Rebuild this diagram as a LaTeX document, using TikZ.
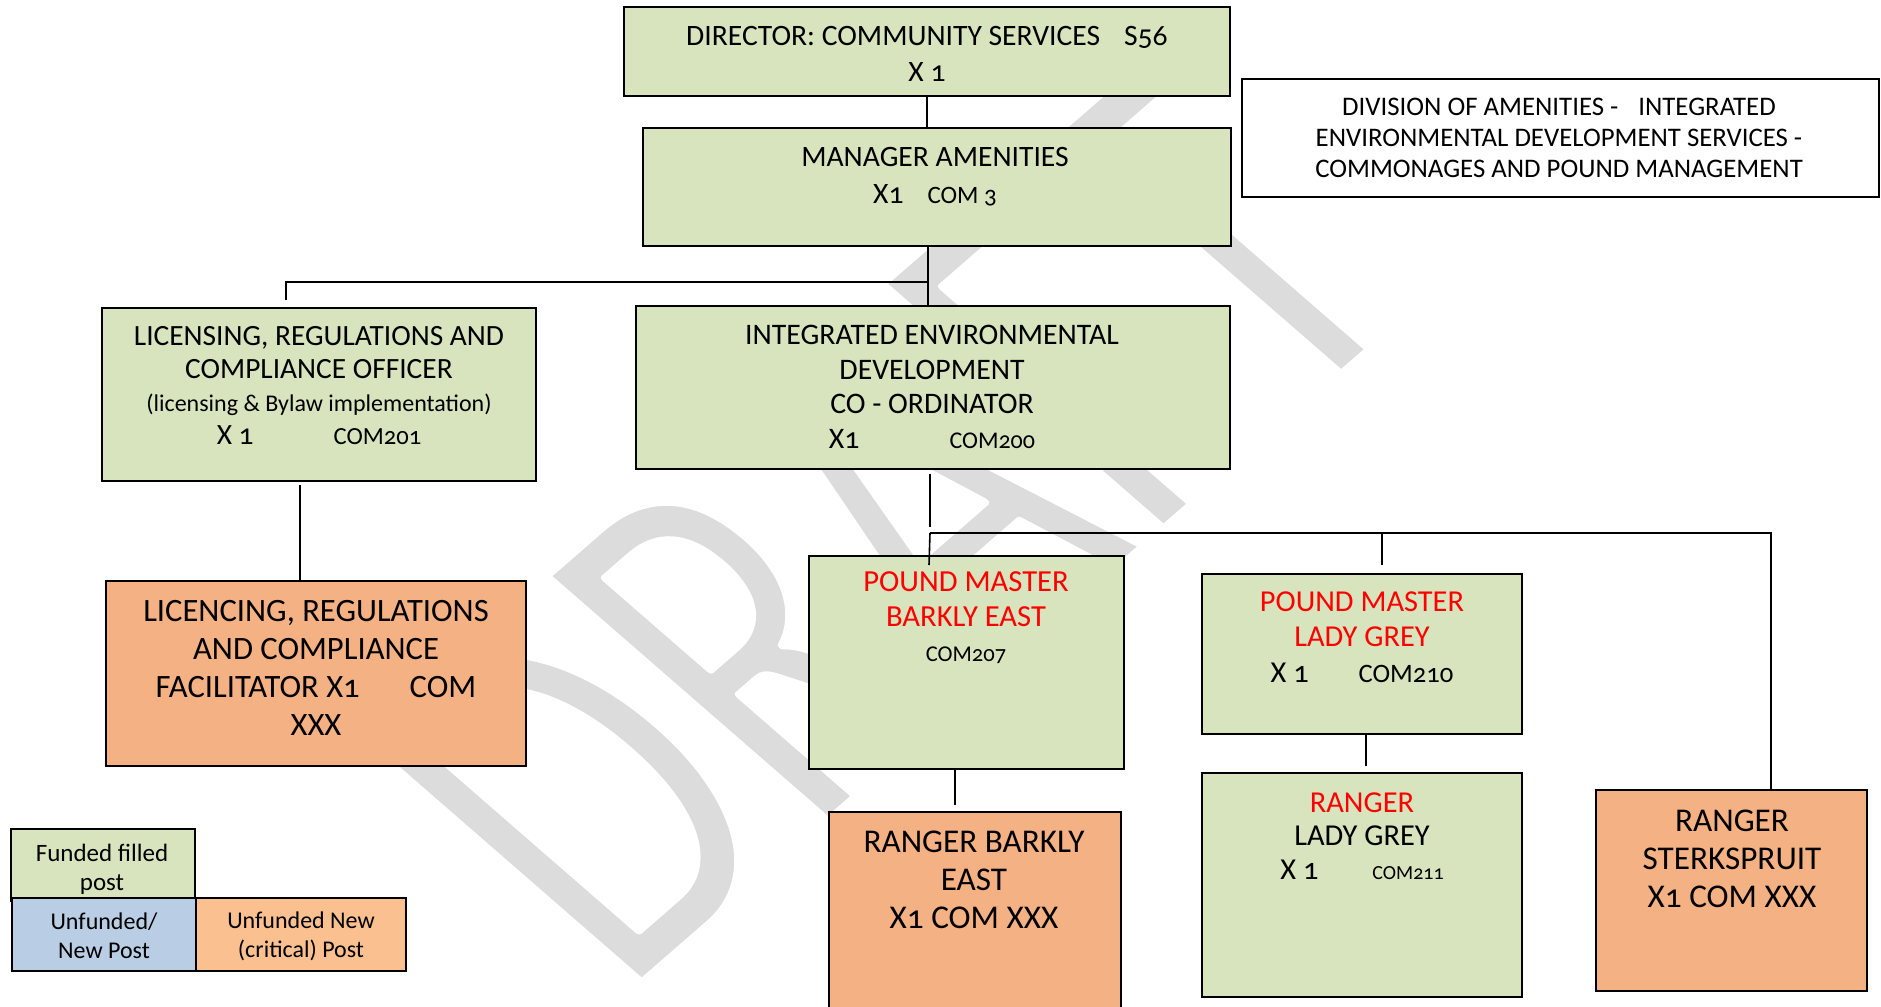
\documentclass[tikz,border=0pt]{standalone}
\usepackage{fontspec}
\setmainfont{Carlito}[Numbers=OldStyle]
\usetikzlibrary{fit}
\definecolor{fgreen}{HTML}{D7E4BD}
\definecolor{forange}{HTML}{F4B183}
\definecolor{lorange}{HTML}{FAC090}
\definecolor{lblue}{HTML}{B9CDE5}
\definecolor{pred}{HTML}{FF0000}
\definecolor{wmark}{HTML}{DCDCDC}
\newcommand{\fs}[2]{\fontsize{#1}{#2}\selectfont}
\newcommand{\thinletters}[1]{\special{pdf:literal direct 2 Tr 1 1 1 RG 3 w 1 j}#1\special{pdf:literal direct 0 Tr}}
\tikzset{
  box/.style={draw=black, line width=0.9pt, inner sep=0pt},
  gbox/.style={box, fill=fgreen},
  obox/.style={box, fill=forange},
  wbox/.style={box, fill=white},
  bbox/.style={box, fill=lblue},
  lobox/.style={box, fill=lorange},
  txt/.style={align=center, inner sep=0pt, text=black},
  conn/.style={draw=black, line width=0.8pt},
}
\begin{document}
\begin{tikzpicture}[x=0.5pt,y=-0.5pt]
\useasboundingbox (0,0) rectangle (1881,1007);
\fill[white] (0,0) rectangle (1881,1007);
% watermark
\begin{scope}[shift={(622,1000)}, yscale=0.87]
\node[transform shape, rotate=45, yscale=1.46, anchor=base west, inner sep=0pt, text=wmark, font=\fs{212.5}{212.5}] (wm) at (0,0) {\thinletters{DRAFT}};
\end{scope}
% boxes
\node[gbox, fit={(624,7) (1230,96)}] (dir) {};
\node[gbox, fit={(643,128) (1231,246)}] (mgr) {};
\node[wbox, fit={(1242,79) (1879,197)}] (div) {};
\node[gbox, fit={(102,308) (536,481)}] (lic) {};
\node[gbox, fit={(636,306) (1230,469)}] (ied) {};
\node[obox, fit={(106,581) (526,766)}] (fac) {};
\node[gbox, fit={(809,556) (1124,769)}] (pmbe) {};
\node[obox, fit={(829,812) (1121,1015)}] (rbe) {};
\node[gbox, fit={(1202,574) (1522,734)}] (pmlg) {};
\node[gbox, fit={(1202,773) (1522,997)}] (rlg) {};
\node[obox, fit={(1596,790) (1867,991)}] (rst) {};
\node[gbox, fit={(11,829) (195,901)}] (leg1) {};
\node[bbox, fit={(12,898) (196,971)}] (leg2) {};
\node[lobox, fit={(196,898) (406,971)}] (leg3) {};
% texts
\node[txt, font=\fs{14.8}{18}] (tdir) at (927,54) {DIRECTOR: COMMUNITY SERVICES\hspace{12pt}S56\\X 1};
\node[txt, font=\fs{14.8}{18.5}] (tmgr) at (935,177) {MANAGER AMENITIES\\X1\hspace{12pt}{\fs{12.5}{18}COM 3}};
\node[txt, font=\fs{13.4}{15.5}] (tdiv) at (1559,138) {DIVISION OF AMENITIES -\hspace{10pt}INTEGRATED\\ENVIRONMENTAL DEVELOPMENT SERVICES -\\COMMONAGES AND POUND MANAGEMENT};
\node[txt, font=\fs{14.7}{16.5}] (tlic) at (319,386) {LICENSING, REGULATIONS AND\\COMPLIANCE OFFICER\\{\fs{12}{16.5}(licensing \& Bylaw implementation)}\\X 1\hspace{40pt}{\fs{12.3}{16.5}COM201}};
\node[txt, font=\fs{14.9}{17.3}] (tied) at (932,387) {INTEGRATED ENVIRONMENTAL\\DEVELOPMENT\\CO - ORDINATOR\\X1\hspace{45pt}{\fs{12}{17}COM200}};
\node[txt, font=\fs{16.3}{18.9}] (tfac) at (316,668) {LICENCING, REGULATIONS\\AND COMPLIANCE\\FACILITATOR X1\hspace{25pt}COM\\XXX};
\node[txt, font=\fs{15.3}{17.5}] (tpmbe) at (966,618) {\textcolor{pred}{POUND MASTER}\\\textcolor{pred}{BARKLY EAST}\\{\fs{11.3}{17}COM207}};
\node[txt, font=\fs{16.6}{18.9}] (trbe) at (974,880) {RANGER BARKLY\\EAST\\X1 COM XXX};
\node[txt, font=\fs{15.2}{17.7}] (tpmlg) at (1362,637) {\textcolor{pred}{POUND MASTER}\\\textcolor{pred}{LADY GREY}\\X 1\hspace{25pt}{\fs{13.3}{17}COM210}};
\node[txt, font=\fs{15.2}{16.8}] (trlg) at (1362,836) {\textcolor{pred}{RANGER}\\LADY GREY\\X 1\hspace{27pt}{\fs{10}{16}COM211}};
\node[txt, font=\fs{16.6}{18.9}] (trst) at (1732,859) {RANGER\\STERKSPRUIT\\X1 COM XXX};
\node[txt, font=\fs{12.5}{14.5}] (tleg1) at (102,869) {Funded filled\\post};
\node[txt, font=\fs{12}{14.5}] (tleg2) at (104,936) {Unfunded/\\New Post};
\node[txt, font=\fs{12}{14.5}] (tleg3) at (301,936) {Unfunded New\\(critical) Post};
% connectors
\coordinate (m1) at (928,282);
\coordinate (l1) at (286,282);
\coordinate (l2) at (286,300);
\coordinate (c300) at (300,485);
\coordinate (i1) at (930,474);
\coordinate (b0) at (930,527);
\coordinate (b1) at (930,533);
\coordinate (b2) at (1771,533);
\coordinate (b3) at (1382,533);
\coordinate (pe) at (929,565);
\coordinate (lgtop) at (1382,565);
\coordinate (r1) at (955,805);
\coordinate (g1) at (1366,766);
\draw[conn] (dir.south) -- (dir.south |- mgr.north);
\draw[conn] (mgr.south -| m1) -- (ied.north -| m1);
\draw[conn] (l2) -- (l1) -- (m1);
\draw[conn] (c300) -- (c300 |- fac.north);
\draw[conn] (i1) -- (b0);
\draw[conn] (b1) -- (b2) -- (b2 |- rst.north);
\draw[conn] (b1) -- (pe);
\draw[conn] (b3) -- (lgtop);
\draw[conn] (pmbe.south -| r1) -- (r1);
\draw[conn] (pmlg.south -| g1) -- (g1);
\end{tikzpicture}
\end{document}
